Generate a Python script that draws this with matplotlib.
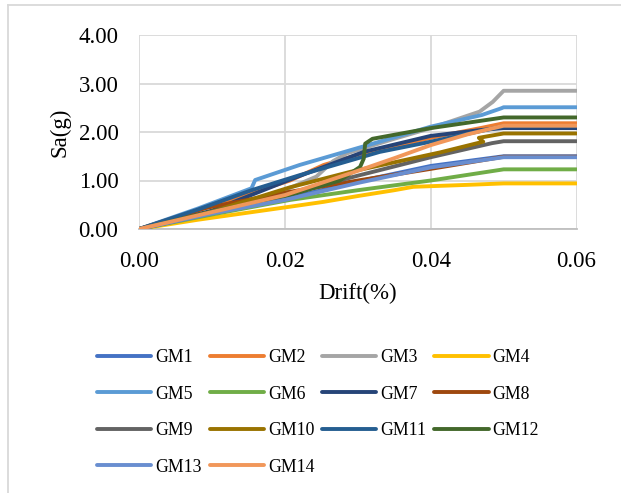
import matplotlib
matplotlib.use("Agg")
import matplotlib.pyplot as plt
from matplotlib.lines import Line2D
from matplotlib.ticker import FormatStrFormatter

plt.rcParams['font.family'] = ['Liberation Serif', 'DejaVu Serif']

series_names = ["GM1", "GM2", "GM3", "GM4", "GM5", "GM6", "GM7",
                "GM8", "GM9", "GM10", "GM11", "GM12", "GM13", "GM14"]
colors = ["#4472C4", "#ED7D31", "#A5A5A5", "#FFC000", "#5B9BD5", "#70AD47",
          "#264478", "#9E480E", "#636363", "#997300", "#255E91", "#43682B",
          "#698ED0", "#F1975A"]

gm1_x = [0, 0.01, 0.02, 0.03, 0.04, 0.05, 0.06]
gm1_y = [0, 0.33, 0.62, 0.98, 1.30, 1.50, 1.50]
gm2_x = [0, 0.008, 0.0152, 0.0207, 0.0253, 0.0298, 0.035, 0.040, 0.0468, 0.050, 0.060]
gm2_y = [0, 0.38, 0.74, 1.00, 1.32, 1.52, 1.70, 1.88, 2.08, 2.18, 2.18]
gm3_x = [0, 0.01, 0.019, 0.0243, 0.0266, 0.0285, 0.035, 0.040, 0.0467, 0.0485, 0.0500, 0.060]
gm3_y = [0, 0.36, 0.74, 1.08, 1.40, 1.56, 1.86, 2.08, 2.42, 2.62, 2.85, 2.85]
gm4_x = [0, 0.008, 0.0207, 0.0253, 0.030, 0.035, 0.0376, 0.045, 0.050, 0.060]
gm4_y = [0, 0.19, 0.46, 0.56, 0.68, 0.80, 0.87, 0.91, 0.94, 0.94]
gm5_x = [0, 0.008, 0.0154, 0.0159, 0.022, 0.0307, 0.040, 0.047, 0.0497, 0.050, 0.060]
gm5_y = [0, 0.42, 0.84, 1.01, 1.32, 1.70, 2.11, 2.35, 2.49, 2.51, 2.51]
gm6_x = [0, 0.01, 0.0207, 0.030, 0.040, 0.050, 0.060]
gm6_y = [0, 0.30, 0.60, 0.80, 1.00, 1.23, 1.23]
gm7_x = [0, 0.01, 0.0207, 0.0308, 0.040, 0.0468, 0.050, 0.060]
gm7_y = [0, 0.38, 1.02, 1.59, 1.92, 2.04, 2.08, 2.08]
gm8_x = [0, 0.009, 0.02, 0.03, 0.04, 0.05, 0.06]
gm8_y = [0, 0.43, 0.75, 1.00, 1.24, 1.49, 1.49]
gm9_x = [0, 0.01, 0.02, 0.03, 0.04, 0.0484, 0.05, 0.06]
gm9_y = [0, 0.33, 0.70, 1.10, 1.48, 1.77, 1.81, 1.81]
gm10_x = [0, 0.01, 0.0207, 0.029, 0.0413, 0.0472, 0.0466, 0.05, 0.06]
gm10_y = [0, 0.36, 0.86, 1.18, 1.58, 1.80, 1.88, 1.97, 1.97]
gm11_x = [0, 0.008, 0.0154, 0.022, 0.033, 0.040, 0.050, 0.060]
gm11_y = [0, 0.40, 0.80, 1.11, 1.59, 1.80, 2.12, 2.12]
gm12_x = [0, 0.01, 0.0207, 0.0275, 0.0303, 0.0308, 0.0310, 0.0320, 0.040, 0.050, 0.060]
gm12_y = [0, 0.36, 0.70, 1.00, 1.28, 1.45, 1.76, 1.86, 2.08, 2.30, 2.30]
gm13_x = [0, 0.01, 0.02, 0.03, 0.04, 0.05, 0.06]
gm13_y = [0, 0.32, 0.60, 0.95, 1.27, 1.48, 1.48]
gm14_x = [0, 0.01, 0.02, 0.03, 0.035, 0.040, 0.045, 0.050, 0.060]
gm14_y = [0, 0.35, 0.70, 1.20, 1.46, 1.73, 1.95, 2.13, 2.13]

xs = [gm1_x, gm2_x, gm3_x, gm4_x, gm5_x, gm6_x, gm7_x, gm8_x, gm9_x, gm10_x,
      gm11_x, gm12_x, gm13_x, gm14_x]
ys = [gm1_y, gm2_y, gm3_y, gm4_y, gm5_y, gm6_y, gm7_y, gm8_y, gm9_y, gm10_y,
      gm11_y, gm12_y, gm13_y, gm14_y]

x_ticks = [0.00, 0.02, 0.04, 0.06]
y_ticks = [0.00, 1.00, 2.00, 3.00, 4.00]

W, H = 621, 493
fig = plt.figure(figsize=(W / 100, H / 100), dpi=100)
ax = fig.add_axes([139.3 / W, 1 - 229 / H, (576.5 - 139.3) / W, (229 - 35) / H])

handles = []
for x, y, c, n in zip(xs, ys, colors, series_names):
    h, = ax.plot(x, y, color=c, lw=2.8, solid_joinstyle='round',
                 solid_capstyle='round', label=n, zorder=3)
    handles.append(h)

ax.set_xlim(0, 0.06)
ax.set_ylim(0, 4)
ax.set_xticks(x_ticks)
ax.set_yticks(y_ticks)
ax.xaxis.set_major_formatter(FormatStrFormatter('%.2f'))
ax.yaxis.set_major_formatter(FormatStrFormatter('%.2f'))
ax.grid(True, color='#D9D9D9', lw=1.3, zorder=0)
ax.set_axisbelow(True)
for s in ['top', 'right', 'left']:
    ax.spines[s].set_visible(False)
ax.spines['bottom'].set_color('#BFBFBF')
ax.spines['bottom'].set_linewidth(1.3)
ax.tick_params(axis='both', length=0, labelsize=16.5, colors='black')
ax.tick_params(axis='x', pad=15.5)
ax.tick_params(axis='y', pad=15)
ax.set_xlabel('Drift(%)', fontsize=16.5, labelpad=8.5)
ax.set_ylabel('Sa(g)', fontsize=16.5, labelpad=6)

# legend: row-major order in 4 columns (matplotlib fills columns first)
order = [0, 4, 8, 12, 1, 5, 9, 13, 2, 6, 10, 3, 7, 11]
leg = fig.legend([handles[i] for i in order], [series_names[i] for i in order],
                 ncol=4, loc='upper left', bbox_to_anchor=(97 / W, 1 - 349 / H),
                 frameon=False, fontsize=12.8, handlelength=3.05,
                 handletextpad=0.22, columnspacing=0.45, labelspacing=1.1,
                 borderpad=0, borderaxespad=0)

# chart-area border
fig.add_artist(Line2D([8 / W, 8 / W], [0, 1 - 5 / H], color='#D9D9D9', lw=1.3,
                      transform=fig.transFigure))
fig.add_artist(Line2D([8 / W, 1], [1 - 5 / H, 1 - 5 / H], color='#D9D9D9', lw=1.3,
                      transform=fig.transFigure))

fig.savefig('out.png', dpi=100)
